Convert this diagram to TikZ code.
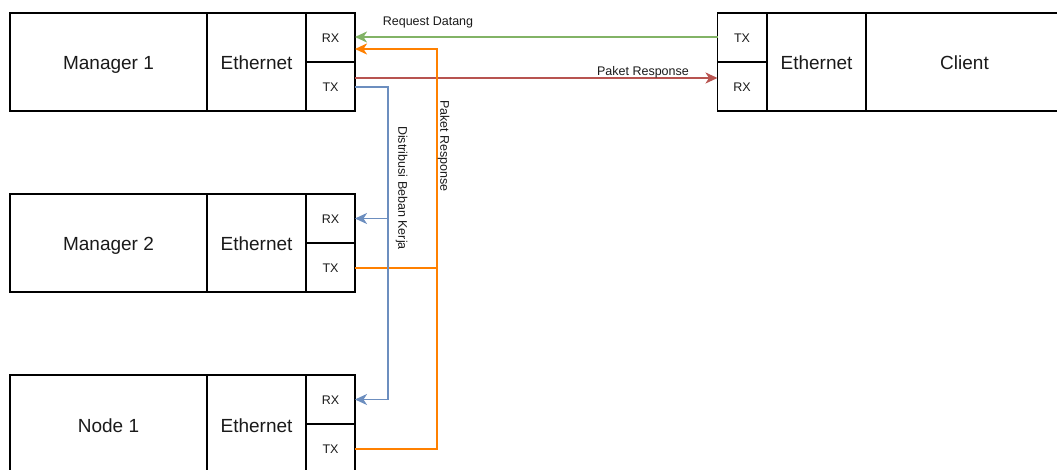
\documentclass[tikz,border=0pt]{standalone}
\usepackage{fontspec}
\setmainfont{Liberation Sans}
\usetikzlibrary{arrows.meta}
\definecolor{cgreen}{HTML}{82B366}
\definecolor{cred}{HTML}{B85450}
\definecolor{corange}{HTML}{FF8000}
\definecolor{cblue}{HTML}{6C8EBF}
\definecolor{ctext}{HTML}{1A1A1A}
\tikzset{
  cell/.style={draw=black, line width=1.2pt, inner sep=0pt, outer sep=0pt, text=ctext, text depth=0pt},
  namecell/.style={cell, minimum width=197pt, minimum height=98pt, font=\fontsize{19}{22}\selectfont, text height=16pt},
  ethcell/.style={cell, minimum width=99pt, minimum height=98pt, font=\fontsize{19}{22}\selectfont, text height=16pt},
  portcell/.style={cell, minimum width=49pt, minimum height=49pt, font=\fontsize{12.5}{14}\selectfont, text height=10.5pt},
  tip/.style={-{Stealth[length=12pt,width=11pt,inset=3.5pt]}},
  lbl/.style={font=\fontsize{12.5}{14}\selectfont, text=ctext, inner sep=0pt, text height=10.5pt, text depth=0pt},
  wire/.style={line width=1.8pt},
  owire/.style={line width=2pt, draw=corange},
}
\begin{document}
\begin{tikzpicture}[x=1pt,y=-1pt]
\useasboundingbox (0,0) rectangle (1057,470);
% Manager 1
\node[namecell] (m1) at (108.5,62) {Manager 1};
\node[ethcell] (m1e) at (256.5,62) {Ethernet};
\node[portcell] (m1rx) at (330.5,37.5) {RX};
\node[portcell] (m1tx) at (330.5,86.5) {TX};
% Manager 2
\node[namecell] (m2) at (108.5,243) {Manager 2};
\node[ethcell] (m2e) at (256.5,243) {Ethernet};
\node[portcell] (m2rx) at (330.5,218.5) {RX};
\node[portcell] (m2tx) at (330.5,267.5) {TX};
% Node 1
\node[namecell] (n1) at (108.5,424) {Node 1};
\node[ethcell] (n1e) at (256.5,424) {Ethernet};
\node[portcell] (n1rx) at (330.5,399.5) {RX};
\node[portcell] (n1tx) at (330.5,448.5) {TX};
% Client
\node[portcell] (ctx) at (742,37.5) {TX};
\node[portcell] (crx) at (742,86.5) {RX};
\node[ethcell] (ce) at (816.5,62) {Ethernet};
\node[namecell] (cl) at (964.5,62) {Client};
% coordinates
\coordinate (oTop) at (437,49);
\coordinate (oMid) at (437,268);
\coordinate (bTop) at (388,87);
\coordinate (bMid) at (388,218.5);
% green: Request Datang
\draw[wire, draw=cgreen, tip] ([yshift=0.5pt]ctx.west) -- ([yshift=0.5pt]m1rx.east);
\node[lbl] (lreq) at (428,20.5) {Request Datang};
% red: Paket Response
\draw[wire, draw=cred, tip] ([yshift=8.5pt]m1tx.east) -- ([yshift=8.5pt]crx.west);
\node[lbl] (lpr) at (643,70) {Paket Response};
% orange
\draw[owire, tip] (n1tx.east) -| (oTop) -- ([yshift=-11.5pt]m1rx.east);
\draw[owire] (m2tx.east |- oMid) -- (oMid);
\node[lbl, rotate=-90] (lpr2) at (445.5,146) {Paket Response};
% blue
\draw[wire, draw=cblue, tip] (m1tx.east |- bTop) -- (bTop) |- (n1rx.east);
\draw[wire, draw=cblue, tip] (bMid) -- (m2rx.east);
\node[lbl, rotate=-90] (ldist) at (403.5,188) {Distribusi Beban Kerja};
\end{tikzpicture}
\end{document}
